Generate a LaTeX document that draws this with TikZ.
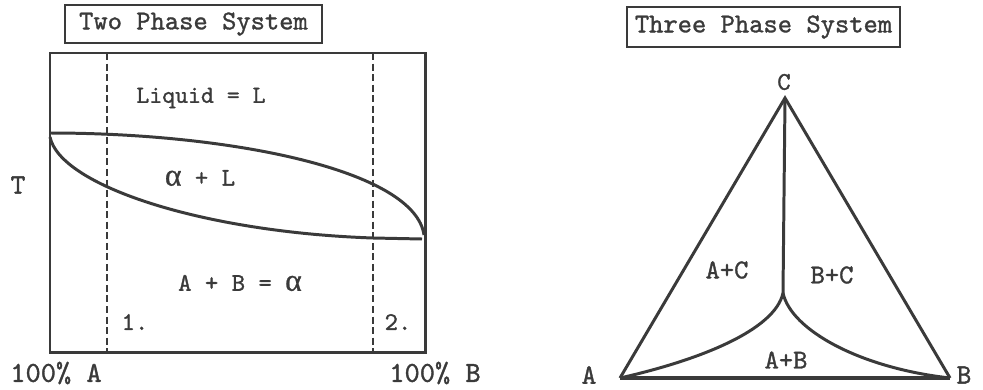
\documentclass[tikz,border=0pt]{standalone}
\usepackage{fontspec}
\newfontfamily\lblfont{lmmono10-regular.otf}[FakeBold=1.2]
\newfontfamily\grkfont{Liberation Serif}[FakeBold=0.8]
\usetikzlibrary{calc}
\definecolor{ink}{HTML}{3A3A3A}
\newcommand{\alphasym}{{\grkfont\fontsize{18}{18}\selectfont α}}

\begin{document}
\begin{tikzpicture}[x=0.02cm,y=-0.02cm,
    heavy/.style={draw=ink,line width=1.7pt},
    guide/.style={draw=ink,line width=0.6pt,dash pattern=on 4pt off 2pt},
    titlebox/.style={draw=ink,line width=0.8pt,text=ink,inner sep=0pt,
      font=\lblfont\fontsize{15.5}{17}\selectfont},
    lbl/.style={text=ink,inner sep=0pt,font=\lblfont\fontsize{14.5}{16}\selectfont},
    axis lbl/.style={text=ink,inner sep=0pt,font=\lblfont\fontsize{16.5}{18}\selectfont}]
  \useasboundingbox (0,0) rectangle (983,389);

  % two phase system
  \node[titlebox,minimum width=5.14cm,minimum height=0.76cm] (title2) at (193.5,24) {Two Phase System};
  \coordinate (tl) at (50,53);
  \coordinate (br) at (425,352);
  \draw[heavy] (tl) rectangle (br);
  \coordinate (d1t) at (107,53);
  \coordinate (d1b) at (107,352);
  \coordinate (d2t) at (373,53);
  \coordinate (d2b) at (373,352);
  \draw[guide] (d1t) -- (d1b);
  \draw[guide] (d2t) -- (d2b);
  \coordinate (liqA) at (50,133);
  \coordinate (liqB) at (424,235);
  \coordinate (solA) at (50,137);
  \coordinate (solk) at (373,238);
  \coordinate (solB) at (422,239);
  \draw[heavy] (liqA) .. controls (230,133) and (415,170) .. (liqB);
  \draw[heavy] (solA) .. controls (60,185) and (200,232) .. (solk) -- (solB);
  \node[lbl,font=\lblfont\fontsize{14}{16}\selectfont] (liq) at (201,98) {Liquid = L};
  \node[lbl] (mix) at (200,178) {\alphasym{} + L};
  \node[lbl] (sol) at (240,283) {A + B = \alphasym};
  \node[lbl] (one) at (135,322) {1.};
  \node[lbl] (two) at (398,322) {2.};
  \node[lbl,font=\lblfont\fontsize{16}{18}\selectfont] (temp) at (18,185) {T};
  \node[axis lbl] (pA) at (56,373) {100\% A};
  \node[axis lbl] (pB) at (435,373) {100\% B};

  % three phase system
  \node[titlebox,minimum width=5.46cm,minimum height=0.8cm] (title3) at (763.5,27) {Three Phase System};
  \coordinate (A) at (620,378);
  \coordinate (B) at (950,378);
  \coordinate (C) at (785,98);
  \coordinate (J) at (783,293);
  \draw[heavy,line join=miter] (A) -- (C) -- (B);
  \draw[draw=ink,line width=2.3pt] (A) -- (B);
  \draw[heavy] (C) -- (J);
  \draw[heavy] (J) .. controls (775,330) and (700,360) .. (A);
  \draw[heavy] (J) .. controls (791,330) and (860,368) .. (B);
  \node[lbl] (nC) at (784,82) {C};
  \node[lbl,font=\lblfont\fontsize{16}{18}\selectfont] (nA) at (589,375) {A};
  \node[lbl,font=\lblfont\fontsize{16}{18}\selectfont] (nB) at (964,375) {B};
  \node[lbl,font=\lblfont\fontsize{15.5}{17}\selectfont] (ac) at (727,270) {A+C};
  \node[lbl,font=\lblfont\fontsize{15.5}{17}\selectfont] (bc) at (832,275) {B+C};
  \node[lbl,font=\lblfont\fontsize{15.5}{17}\selectfont] (ab) at (786,360) {A+B};
\end{tikzpicture}
\end{document}
